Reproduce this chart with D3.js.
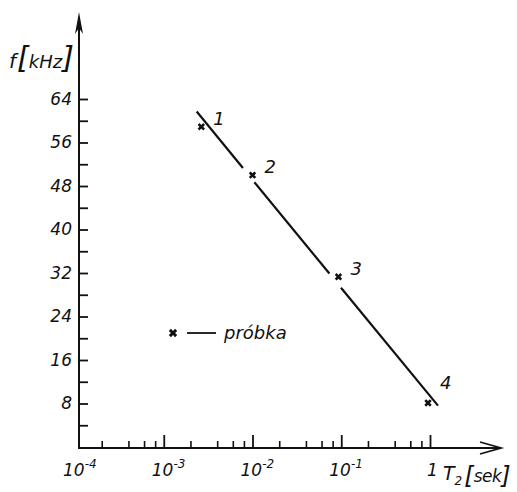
<!DOCTYPE html>
<html>
<head>
<meta charset="utf-8">
<script src="https://cdn.jsdelivr.net/npm/d3@7"></script>
<style>
  body { margin: 0; background: #fff; }
  svg text { font-family: "DejaVu Sans", sans-serif; font-style: italic; fill: #111; }
</style>
</head>
<body>
<svg id="chart" width="517" height="492"></svg>
<script>
// DATA
const sampleNames = ["1", "2", "3", "4"];
const sampleT2 = [0.00265, 0.0100, 0.093, 0.95];   // T2 [sek]
const sampleF = [58.9, 50.0, 31.3, 8.1];            // f [kHz]

// fitted line, drawn in pieces (gaps where it crosses markers 2 and 3)
const fitT2 = [[0.00235, 0.0078], [0.0105, 0.0735], [0.0993, 1.23]];
const fitF = [[61.7, 51.3], [48.7, 31.9], [29.3, 7.6]];

const fTicks = [8, 16, 24, 32, 40, 48, 56, 64];
const fMinor = [4, 12, 20, 28, 36, 44, 52, 60];
const tDecades = [1e-4, 1e-3, 1e-2, 1e-1, 1];
const tDecadeLabels = [["10", "-4"], ["10", "-3"], ["10", "-2"], ["10", "-1"], ["1", ""]];
const tMinorMult = [2, 4, 6, 8];

const svg = d3.select("#chart");
const ink = "#111";

const x = d3.scaleLog().domain([1e-4, 1]).range([75, 430]);
const y = d3.scaleLinear().domain([0, 64]).range([447, 99]);
const x0 = 79, y0 = 448;

// minor log ticks
const tMinor = [];
tDecades.slice(0, -1).forEach(d => tMinorMult.forEach(m => tMinor.push(d * m)));

// y axis ticks (drawn on the inside, labels outside)
svg.append("g")
  .attr("transform", `translate(${x0},0)`)
  .call(d3.axisLeft(y).tickValues(fTicks).tickSize(-9).tickPadding(7).tickFormat(d3.format("d")))
  .call(g => g.select(".domain").remove())
  .call(g => g.selectAll("line").attr("stroke", ink).attr("stroke-width", 1.8))
  .call(g => g.selectAll("text").attr("font-size", 17).attr("font-family", null).attr("fill", ink));

svg.append("g")
  .attr("transform", `translate(${x0},0)`)
  .call(d3.axisLeft(y).tickValues(fMinor).tickSize(-9).tickFormat(""))
  .call(g => g.select(".domain").remove())
  .call(g => g.selectAll("line").attr("stroke", ink).attr("stroke-width", 1.8));

// x axis ticks
svg.append("g")
  .attr("transform", `translate(0,${y0})`)
  .call(d3.axisBottom(x).tickValues(tDecades.slice(1)).tickSize(-13).tickFormat(""))
  .call(g => g.select(".domain").remove())
  .call(g => g.selectAll("line").attr("stroke", ink).attr("stroke-width", 1.8));

svg.append("g")
  .attr("transform", `translate(0,${y0})`)
  .call(d3.axisBottom(x).tickValues(tMinor).tickSize(-7).tickFormat(""))
  .call(g => g.select(".domain").remove())
  .call(g => g.selectAll("line").attr("stroke", ink).attr("stroke-width", 1.6));

// x tick labels with exponents
const xl = svg.append("g");
tDecades.forEach((d, i) => {
  const [base, ex] = tDecadeLabels[i];
  const t = xl.append("text")
    .attr("x", ex ? x(d) - 12 : x(d) - 3)
    .attr("y", y0 + 28)
    .attr("font-size", 17);
  t.append("tspan").text(base);
  if (ex) t.append("tspan").attr("dy", -8).attr("font-size", 12).text(ex);
});

// axis lines with arrows
svg.append("line")
  .attr("x1", x0).attr("y1", y0 + 1).attr("x2", x0).attr("y2", 18)
  .attr("stroke", ink).attr("stroke-width", 2);
svg.append("path")
  .attr("d", `M${x0},12 L${x0 - 4},34 L${x0},28 L${x0 + 4},34 Z`)
  .attr("fill", ink);

svg.append("line")
  .attr("x1", x0 - 1).attr("y1", y0).attr("x2", 500).attr("y2", y0)
  .attr("stroke", ink).attr("stroke-width", 2);
svg.append("path")
  .attr("d", `M480,${y0 - 6} L501,${y0} L480,${y0 + 6}`)
  .attr("fill", "none").attr("stroke", ink).attr("stroke-width", 1.8);

// axis titles
const yt = svg.append("text").attr("x", 9).attr("y", 68);
yt.append("tspan").attr("font-size", 20).text("f");
yt.append("tspan").attr("font-size", 30).attr("dx", 1).text("[");
yt.append("tspan").attr("font-size", 18).text("kHz");
yt.append("tspan").attr("font-size", 30).text("]");

const xt = svg.append("text").attr("x", 443).attr("y", 480);
xt.append("tspan").attr("font-size", 19).text("T");
xt.append("tspan").attr("font-size", 12).attr("dy", 5).text("2");
xt.append("tspan").attr("font-size", 24).attr("dy", -1).attr("dx", 2).text("[");
xt.append("tspan").attr("font-size", 17).attr("dy", -2).attr("letter-spacing", -0.5).text("sek");
xt.append("tspan").attr("font-size", 24).attr("dy", 2).text("]");

// fitted line
const line = d3.line().x(d => x(d[0])).y(d => y(d[1]));
svg.append("g").selectAll("path")
  .data(fitT2.map((seg, i) => seg.map((t, j) => [t, fitF[i][j]])))
  .join("path")
  .attr("d", line)
  .attr("fill", "none")
  .attr("stroke", ink)
  .attr("stroke-width", 2.2);

// sample markers
const cross = d3.symbol().type(d3.symbolCross).size(34);
const pts = svg.append("g").selectAll("g")
  .data(sampleNames.map((n, i) => ({ n, t: sampleT2[i], f: sampleF[i] })))
  .join("g")
  .attr("transform", d => `translate(${x(d.t)},${y(d.f)})`);
pts.append("path")
  .attr("d", cross)
  .attr("transform", "rotate(45)")
  .attr("fill", ink);
pts.append("text")
  .attr("x", 12)
  .attr("y", d => d.n === "4" ? -14 : -2)
  .attr("font-size", 18)
  .text(d => d.n);

// legend
const lg = svg.append("g").attr("transform", "translate(173,333)");
lg.append("path").attr("d", d3.symbol().type(d3.symbolCross).size(44)).attr("transform", "rotate(45)").attr("fill", ink);
lg.append("line").attr("x1", 14).attr("x2", 43).attr("y1", 0).attr("y2", 0).attr("stroke", ink).attr("stroke-width", 1.8);
lg.append("text").attr("x", 51).attr("y", 6).attr("font-size", 18).text("próbka");
</script>
</body>
</html>
